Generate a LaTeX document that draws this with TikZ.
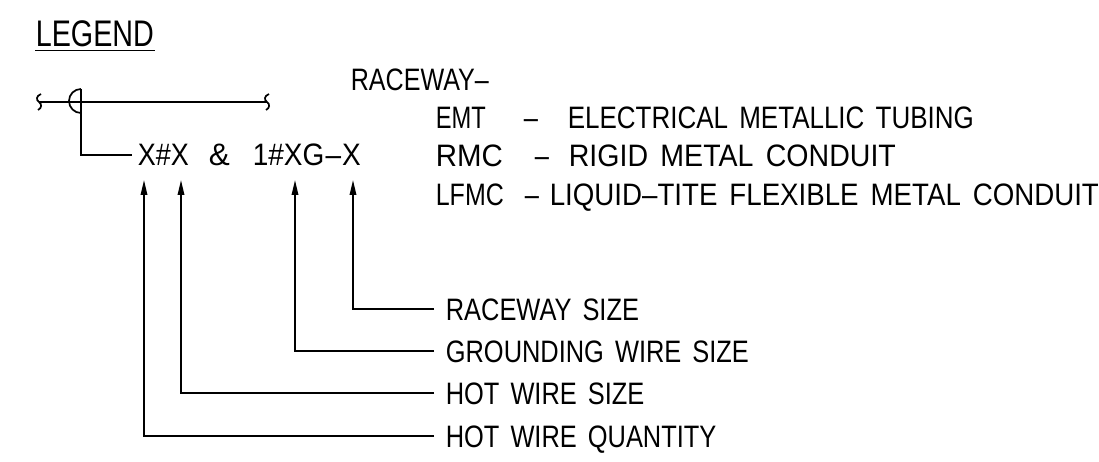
\documentclass[tikz,border=0pt]{standalone}
\usepackage{fontspec}
\setmainfont{Liberation Sans}[FakeStretch=0.82]
\usetikzlibrary{arrows.meta}
\newcommand{\gap}{{\kern11pt}}
\begin{document}
\begin{tikzpicture}[x=1pt,y=-1pt, line width=1.7pt,
  txt/.style={anchor=base west, inner sep=0pt, font=\fontsize{31}{31}\selectfont},
  arr/.style={-{Triangle[length=15pt,width=6.5pt]}, line width=1.7pt}]
\useasboundingbox (0,0) rectangle (1099,462);
% title
\node[txt, font=\fontsize{37}{37}\selectfont] (legend) at (35,47) {\resizebox{118pt}{\height}{LEGEND}};
\draw ([yshift=-3.5pt]legend.base west) -- ([yshift=-3.5pt]legend.base east);
% conduit symbol
\coordinate (lt) at (39,102);
\coordinate (rt) at (267,102);
\draw (lt) -- (rt);
\draw ([shift={(2,-8)}]lt) .. controls ([shift={(-3,-6)}]lt) and ([shift={(-3,-2)}]lt) .. (lt)
      .. controls ([shift={(3,2)}]lt) and ([shift={(3,6)}]lt) .. ([shift={(-1,8)}]lt);
\draw ([shift={(2,-8)}]rt) .. controls ([shift={(-3,-6)}]rt) and ([shift={(-3,-2)}]rt) .. (rt)
      .. controls ([shift={(3,2)}]rt) and ([shift={(3,6)}]rt) .. ([shift={(-1,8)}]rt);
\coordinate (sc) at (81,101);
\draw ([yshift=-12pt]sc) arc[start angle=90, end angle=270, radius=12];
% designation text
\node[txt] (xx) at (137,166) {\resizebox{51pt}{\height}{X\#X}};
\node[txt] (amp) at (208,166) {\resizebox{21pt}{\height}{\&}};
\node[txt] (gx) at (252,166) {\resizebox{108pt}{\height}{1\#XG{\kern1pt}–{\kern1pt}X}};
\draw ([yshift=12pt]sc) |- ([xshift=-5pt,yshift=11pt]xx.base west);
% raceway list
\node[txt] (rw) at (350,91) {\resizebox{138pt}{\height}{RACEWAY–}};
\node[txt] (emt) at (435,129) {\resizebox{50pt}{\height}{EMT}};
\node[txt] (d1) at (523,129) {–};
\node[txt] (emtd) at (567,129) {\resizebox{406pt}{\height}{ELECTRICAL\gap METALLIC\gap TUBING}};
\node[txt] (rmc) at (435,167) {\resizebox{67pt}{\height}{RMC}};
\node[txt] (d2) at (534,167) {–};
\node[txt] (rmcd) at (568,167) {\resizebox{327pt}{\height}{RIGID\gap METAL\gap CONDUIT}};
\node[txt] (lfmc) at (435,206) {\resizebox{68pt}{\height}{LFMC}};
\node[txt] (d3) at (524,206) {–};
\node[txt] (lfmcd) at (549,206) {\resizebox{549pt}{\height}{LIQUID–TITE\gap FLEXIBLE\gap METAL\gap CONDUIT}};
% labels
\node[txt] (rs) at (445,320) {RACEWAY\gap SIZE};
\node[txt] (gs) at (445,362) {GROUNDING\gap WIRE\gap SIZE};
\node[txt] (hs) at (445,404) {HOT\gap WIRE\gap SIZE};
\node[txt] (hq) at (445,447) {HOT\gap WIRE\gap QUANTITY};
% arrow tips
\coordinate (t1) at (144,180);
\coordinate (t2) at (181,180);
\coordinate (t3) at (295,180);
\coordinate (t4) at (353,180);
\draw[arr] ([xshift=-11pt,yshift=11pt]rs.base west) -| (t4);
\draw[arr] ([xshift=-11pt,yshift=11pt]gs.base west) -| (t3);
\draw[arr] ([xshift=-11pt,yshift=11pt]hs.base west) -| (t2);
\draw[arr] ([xshift=-11pt,yshift=11pt]hq.base west) -| (t1);
\end{tikzpicture}
\end{document}
